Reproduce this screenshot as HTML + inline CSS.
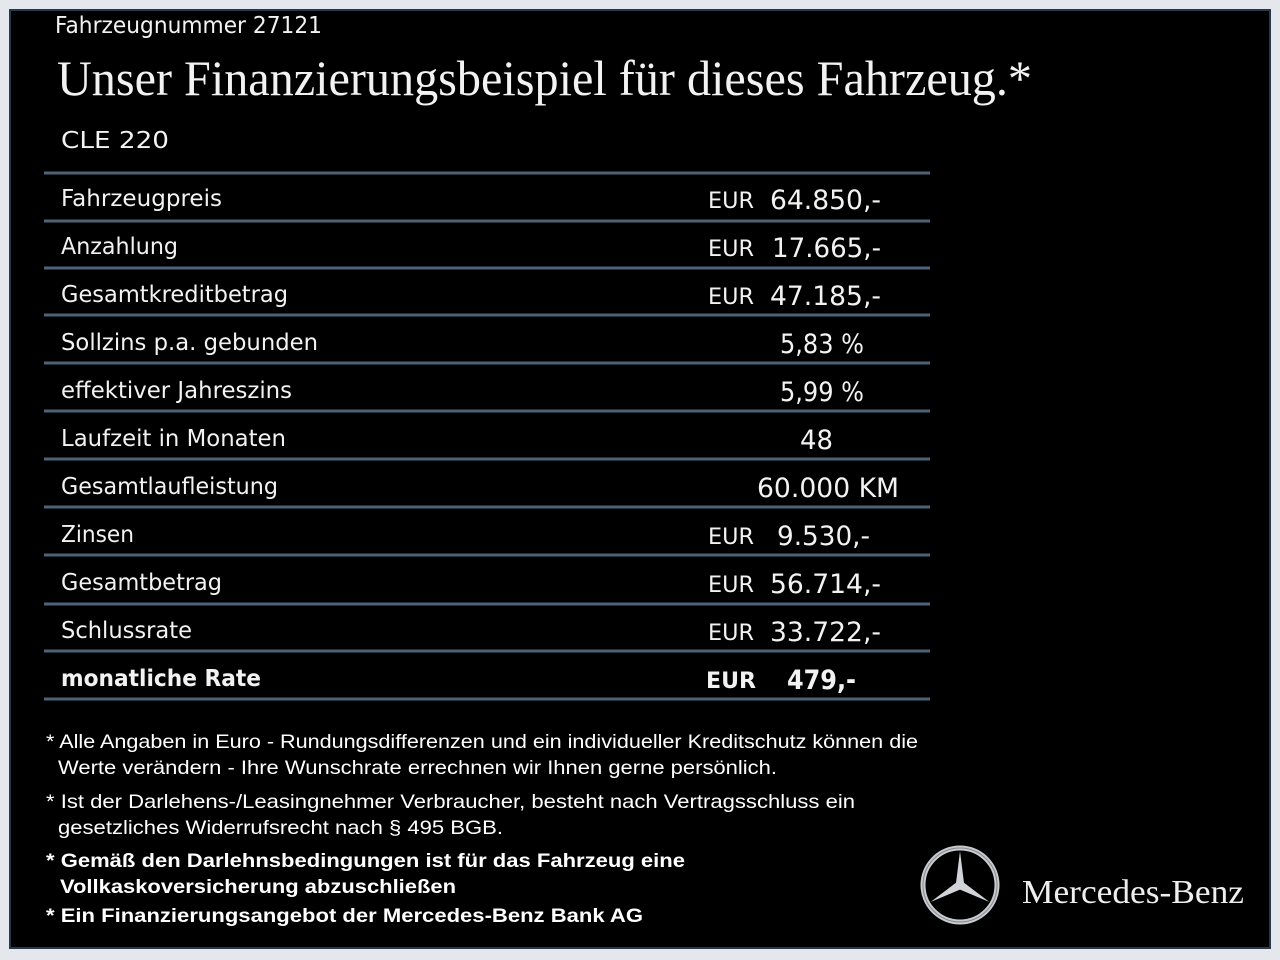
<!DOCTYPE html>
<html><head><meta charset="utf-8"><style>
html,body{margin:0;padding:0;background:#e4e8ec;}
svg{display:block}
.l{font-family:"DejaVu Sans","Liberation Sans",sans-serif;fill:#f2f2f2;font-size:23px}
.v{font-family:"DejaVu Sans","Liberation Sans",sans-serif;fill:#f2f2f2;font-size:27px}
.e{font-family:"DejaVu Sans","Liberation Sans",sans-serif;fill:#f2f2f2;font-size:22px}
.f{font-family:"Liberation Sans",Arial,sans-serif;fill:#fff;font-size:19.5px}
.fb{font-family:"Liberation Sans",Arial,sans-serif;fill:#fff;font-size:19.5px;font-weight:bold}
</style></head><body>
<svg width="1280" height="960" viewBox="0 0 1280 960">
<rect x="0" y="0" width="1280" height="960" fill="#e4e8ec"/>
<rect x="10" y="10" width="1260" height="938" fill="#000" stroke="#26384c" stroke-width="2"/>
<text x="55" y="33" class="l" font-size="22" textLength="267" lengthAdjust="spacingAndGlyphs">Fahrzeugnummer  27121</text>
<text x="57" y="95" font-family="Liberation Serif,serif" font-size="50" fill="#f2f2f2" textLength="975" lengthAdjust="spacingAndGlyphs">Unser Finanzierungsbeispiel für dieses Fahrzeug.*</text>
<text x="61" y="148" class="l" font-size="26" textLength="108" lengthAdjust="spacingAndGlyphs">CLE 220</text>
<g stroke="#4f6378" stroke-width="3">
<line x1="44" x2="930" y1="173" y2="173"/><line x1="44" x2="930" y1="221" y2="221"/><line x1="44" x2="930" y1="268" y2="268"/><line x1="44" x2="930" y1="315" y2="315"/><line x1="44" x2="930" y1="363" y2="363"/><line x1="44" x2="930" y1="411" y2="411"/><line x1="44" x2="930" y1="459" y2="459"/><line x1="44" x2="930" y1="507" y2="507"/><line x1="44" x2="930" y1="555" y2="555"/><line x1="44" x2="930" y1="604" y2="604"/><line x1="44" x2="930" y1="651" y2="651"/><line x1="44" x2="930" y1="699" y2="699"/>
</g>
<text x="61" y="206" class="l" textLength="161" lengthAdjust="spacingAndGlyphs">Fahrzeugpreis</text>
<text x="61" y="254" class="l" textLength="117" lengthAdjust="spacingAndGlyphs">Anzahlung</text>
<text x="61" y="302" class="l" textLength="227" lengthAdjust="spacingAndGlyphs">Gesamtkreditbetrag</text>
<text x="61" y="350" class="l" textLength="257" lengthAdjust="spacingAndGlyphs">Sollzins p.a. gebunden</text>
<text x="61" y="398" class="l" textLength="231" lengthAdjust="spacingAndGlyphs">effektiver Jahreszins</text>
<text x="61" y="446" class="l" textLength="225" lengthAdjust="spacingAndGlyphs">Laufzeit in Monaten</text>
<text x="61" y="494" class="l" textLength="217" lengthAdjust="spacingAndGlyphs">Gesamtlaufleistung</text>
<text x="61" y="542" class="l" textLength="73" lengthAdjust="spacingAndGlyphs">Zinsen</text>
<text x="61" y="590" class="l" textLength="161" lengthAdjust="spacingAndGlyphs">Gesamtbetrag</text>
<text x="61" y="638" class="l" textLength="131" lengthAdjust="spacingAndGlyphs">Schlussrate</text>
<text x="61" y="686" class="l" font-weight="bold" font-family="Liberation Sans,sans-serif" textLength="200" lengthAdjust="spacingAndGlyphs">monatliche Rate</text>

<text x="708" y="208" class="e" textLength="46" lengthAdjust="spacingAndGlyphs">EUR</text>
<text x="770" y="209" class="v" textLength="111" lengthAdjust="spacingAndGlyphs">64.850,-</text>
<text x="708" y="256" class="e" textLength="46" lengthAdjust="spacingAndGlyphs">EUR</text>
<text x="772" y="257" class="v" textLength="109" lengthAdjust="spacingAndGlyphs">17.665,-</text>
<text x="708" y="304" class="e" textLength="46" lengthAdjust="spacingAndGlyphs">EUR</text>
<text x="770" y="305" class="v" textLength="111" lengthAdjust="spacingAndGlyphs">47.185,-</text>
<text x="780" y="353" class="v" textLength="84" lengthAdjust="spacingAndGlyphs">5,83 %</text>
<text x="780" y="401" class="v" textLength="84" lengthAdjust="spacingAndGlyphs">5,99 %</text>
<text x="800" y="449" class="v" textLength="33" lengthAdjust="spacingAndGlyphs">48</text>
<text x="757" y="497" class="v" textLength="142" lengthAdjust="spacingAndGlyphs">60.000 KM</text>
<text x="708" y="544" class="e" textLength="46" lengthAdjust="spacingAndGlyphs">EUR</text>
<text x="777" y="545" class="v" textLength="93" lengthAdjust="spacingAndGlyphs">9.530,-</text>
<text x="708" y="592" class="e" textLength="46" lengthAdjust="spacingAndGlyphs">EUR</text>
<text x="770" y="593" class="v" textLength="111" lengthAdjust="spacingAndGlyphs">56.714,-</text>
<text x="708" y="640" class="e" textLength="46" lengthAdjust="spacingAndGlyphs">EUR</text>
<text x="770" y="641" class="v" textLength="111" lengthAdjust="spacingAndGlyphs">33.722,-</text>
<text x="706" y="688" class="e" font-weight="bold" font-family="Liberation Sans,sans-serif" textLength="50" lengthAdjust="spacingAndGlyphs">EUR</text>
<text x="787" y="689" class="v" font-weight="bold" font-family="Liberation Sans,sans-serif" textLength="69" lengthAdjust="spacingAndGlyphs">479,-</text>

<text x="46" y="748" class="f" textLength="872" lengthAdjust="spacingAndGlyphs">* Alle Angaben in Euro - Rundungsdifferenzen und ein individueller Kreditschutz können die</text>
<text x="58" y="774" class="f" textLength="719" lengthAdjust="spacingAndGlyphs">Werte verändern - Ihre Wunschrate errechnen wir Ihnen gerne persönlich.</text>
<text x="46" y="808" class="f" textLength="809" lengthAdjust="spacingAndGlyphs">* Ist der Darlehens-/Leasingnehmer Verbraucher, besteht nach Vertragsschluss ein</text>
<text x="58" y="834" class="f" textLength="445" lengthAdjust="spacingAndGlyphs">gesetzliches Widerrufsrecht nach § 495 BGB.</text>
<text x="46" y="867" class="fb" textLength="639" lengthAdjust="spacingAndGlyphs">* Gemäß den Darlehnsbedingungen ist für das Fahrzeug eine</text>
<text x="60" y="893" class="fb" textLength="396" lengthAdjust="spacingAndGlyphs">Vollkaskoversicherung abzuschließen</text>
<text x="46" y="922" class="fb" textLength="597" lengthAdjust="spacingAndGlyphs">* Ein Finanzierungsangebot der Mercedes-Benz Bank AG</text>

<g transform="translate(960,885)">
<circle r="37" fill="none" stroke="#c8cbd0" stroke-width="5"/>
<circle r="37" fill="none" stroke="#888" stroke-width="1"/>
<polygon points="0,-34 4,-2 0,3 -4,-2" fill="#d0d3d8"/>
<polygon points="0,-34 4,-2 0,3 -4,-2" fill="#d0d3d8" transform="rotate(120)"/>
<polygon points="0,-34 4,-2 0,3 -4,-2" fill="#d0d3d8" transform="rotate(240)"/>
</g>
<text x="1022" y="903" font-family="Liberation Serif,serif" font-size="34" fill="#eee" textLength="222" lengthAdjust="spacingAndGlyphs">Mercedes-Benz</text>
</svg>
</body></html>
